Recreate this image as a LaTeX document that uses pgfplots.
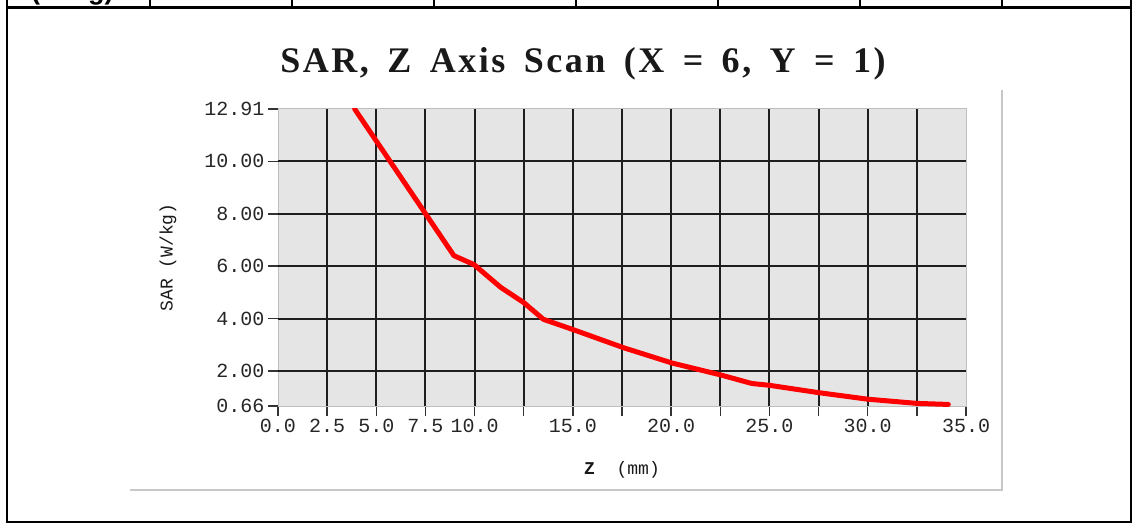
\documentclass[border=0pt]{standalone}
\usepackage{fontspec}
\setmainfont{Liberation Mono}
\newfontfamily\titlefont[LetterSpace=7,WordSpace=1.6]{Liberation Serif}
\newfontfamily\headfont{Liberation Sans}
\usepackage{pgfplots}
\pgfplotsset{compat=1.18}
\definecolor{plotbg}{RGB}{229,229,229}
\definecolor{gridc}{RGB}{30,30,30}
\definecolor{panelshadow}{RGB}{200,200,200}
\definecolor{edgec}{RGB}{190,190,190}

% SAR z-scan samples: depth z (mm), SAR (W/kg)
\pgfplotstableread{
z     sar
3.9   12.91
8.95  6.40
9.97  6.06
11.33 5.19
12.5  4.61
13.5  3.97
15.0  3.58
17.6  2.88
20.05 2.30
22.5  1.85
24.1  1.52
25.0  1.45
27.5  1.17
30.0  0.92
32.5  0.76
34.1  0.72
}\zscan

\begin{document}
\begin{tikzpicture}[x=1pt,y=1pt]
\useasboundingbox (0,0) rectangle (1137,528);
% surrounding report table
\draw[line width=2pt] (7,528) -- (7,6) -- (1131,6) -- (1131,528);
\draw[line width=2.5pt] (7,520.5) -- (1131,520.5);
\foreach \xx in {150,292,434,576,718,860,1002}
  \draw[line width=2pt] (\xx,520.5) -- (\xx,528);
\node[anchor=base west, inner sep=0pt,
      font=\headfont\bfseries\fontsize{27}{27}\selectfont] at (31,528) {(W/kg)};
% frame of the chart panel
\draw[panelshadow, line width=1.5pt] (130,38) -- (1002,38) -- (1002,438);
% title
\node[anchor=base, inner sep=0pt, text=black!90,
      font=\titlefont\bfseries\fontsize{36}{36}\selectfont]
      at (583,455) {SAR, Z Axis Scan (X = 6, Y = 1)};
\begin{axis}[
  at={(278pt,122pt)}, anchor=south west,
  scale only axis, width=688pt, height=297pt,
  xmin=0, xmax=35, ymin=0.66, ymax=12.91,
  % the band above 10 W/kg is compressed to the height of one 2 W/kg step
  y coord trafo/.code={\pgfmathparse{(#1>10)*(10+(#1-10)*0.687285)+(#1<=10)*(#1)}},
  y coord inv trafo/.code={\pgfmathparse{(#1>10)*(10+(#1-10)*1.455)+(#1<=10)*(#1)}},
  xtick={0,2.5,...,35},
  xticklabels={0.0,2.5,5.0,7.5,10.0,,15.0,,20.0,,25.0,,30.0,,35.0},
  ytick={0.66,2,4,6,8,10,12.91},
  yticklabels={0.66,2.00,4.00,6.00,8.00,10.00,12.91},
  extra x ticks={2.5,5,...,32.5},
  extra x tick labels={},
  extra x tick style={grid=major, major tick length=0pt},
  extra y ticks={2,4,6,8,10},
  extra y tick labels={},
  extra y tick style={grid=major, major tick length=0pt},
  major grid style={gridc, line width=2pt},
  tick align=outside, major tick length=10pt,
  tick style={black!80, line width=1.5pt},
  xtick pos=bottom, ytick pos=left,
  axis background/.style={fill=plotbg},
  axis line style={edgec, line width=1pt},
  tick label style={font=\fontsize{20}{20}\selectfont, text=black!85},
  yticklabel style={anchor=east},
  xlabel={\textbf{Z}\ \ (mm)},
  ylabel={SAR (W/kg)},
  label style={font=\fontsize{18}{18}\selectfont, text=black!90},
  xlabel style={at={(axis description cs:0.5,-0.215)}, anchor=center},
  ylabel style={at={(axis description cs:-0.160,0.5)}, anchor=center},
  clip=true,
]
\addplot[red, line width=5pt, line join=round, line cap=round] table[x=z, y=sar] {\zscan};
\end{axis}
\end{tikzpicture}
\end{document}
